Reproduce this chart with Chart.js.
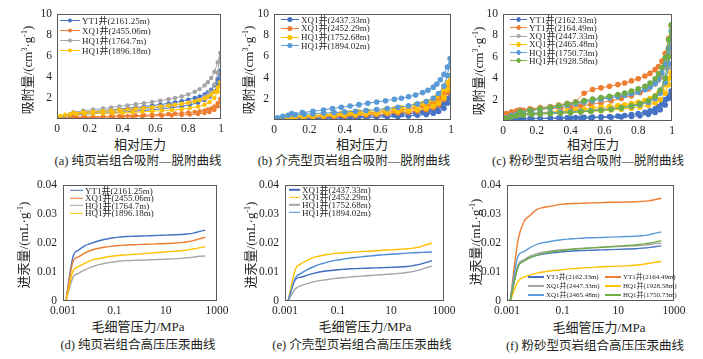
<!DOCTYPE html>
<html>
<head>
<meta charset="utf-8">
<script src="https://cdn.jsdelivr.net/npm/chart.js@4/dist/chart.umd.min.js"></script>
<style>
body{margin:0;width:703px;height:359px;position:relative;overflow:hidden;background:#fff;
  font-family:"Liberation Serif","Noto Sans CJK SC",serif;color:#231f20}
canvas{position:absolute}
.t{position:absolute;white-space:nowrap;font-size:13px;line-height:1;transform:translate(-50%,-50%)}
.t.y{transform:translate(-50%,-50%) rotate(-90deg)}
.t.cap{font-size:12.5px}
sup{font-size:8px;vertical-align:5px;line-height:0}
.lg{position:absolute;display:flex;align-items:center;white-space:nowrap;line-height:1;transform:translateY(-50%)}
.sw{position:relative;display:inline-block;height:8px}
.sw i{position:absolute;left:0;right:0;top:50%;transform:translateY(-50%)}
.sw b{position:absolute;left:50%;top:50%;transform:translate(-50%,-50%);border-radius:50%}
</style>
</head>
<body>
<canvas id="ca"></canvas><canvas id="cb"></canvas><canvas id="cc"></canvas>
<canvas id="cd"></canvas><canvas id="ce"></canvas><canvas id="cf"></canvas>

<div class="t y" style="left:27px;top:70px">吸附量/(cm<sup>3</sup>·g<sup>-1</sup>)</div>
<div class="t y" style="left:248px;top:70px">吸附量/(cm<sup>3</sup>·g<sup>-1</sup>)</div>
<div class="t y" style="left:478px;top:71px">吸附量/(cm<sup>3</sup>·g<sup>-1</sup>)</div>
<div class="t" style="left:140px;top:144px">相对压力</div>
<div class="t" style="left:362px;top:144px">相对压力</div>
<div class="t" style="left:593px;top:144px">相对压力</div>
<div class="t cap" style="left:138px;top:161px">(a) 纯页岩组合吸附—脱附曲线</div>
<div class="t cap" style="left:354px;top:161px">(b) 介壳型页岩组合吸附—脱附曲线</div>
<div class="t cap" style="left:588px;top:161px">(c) 粉砂型页岩组合吸附—脱附曲线</div>

<div class="t y" style="left:23px;top:245px">进汞量/(mL·g<sup>-1</sup>)</div>
<div class="t y" style="left:250px;top:245px">进汞量/(mL·g<sup>-1</sup>)</div>
<div class="t y" style="left:475px;top:242px">进汞量/(mL·g<sup>-1</sup>)</div>
<div class="t" style="left:138px;top:326px">毛细管压力/MPa</div>
<div class="t" style="left:365px;top:326px">毛细管压力/MPa</div>
<div class="t" style="left:599px;top:327px">毛细管压力/MPa</div>
<div class="t cap" style="left:138px;top:345px">(d) 纯页岩组合高压压汞曲线</div>
<div class="t cap" style="left:362px;top:345px">(e) 介壳型页岩组合高压压汞曲线</div>
<div class="t cap" style="left:595px;top:346px">(f) 粉砂型页岩组合高压压汞曲线</div>

<script>
// isotherm pressure points (adsorption up, desorption back down)
const adsP = [0.02,0.05,0.08,0.12,0.17,0.22,0.28,0.34,0.4,0.46,0.52,0.58,0.64,0.7,0.76,0.81,0.86,0.9,0.93,0.96,0.98,0.995];
const desP = [0.98,0.96,0.94,0.92,0.9,0.87,0.84,0.8,0.76,0.72,0.68,0.63,0.58,0.53,0.48,0.43,0.38,0.33,0.28,0.22,0.16,0.1];
const relTicks = [0,0.2,0.4,0.6,0.8,1];
const relTickLabels = ["0","0.2","0.4","0.6","0.8","1"];
const adsTicks = [2,4,6,8,10];
const adsTickLabels = ["2","4","6","8","10"];

// (a)
const aLabels = ["YT1井(2161.25m)","XQ1井(2455.06m)","HQ1井(1764.7m)","HQ1井(1896.18m)"];
const aColors = ["#4472c4","#ed7d31","#a5a5a5","#ffc000"];
const aAds = [
  [0.1,0.3,0.38,0.42,0.46,0.5,0.55,0.6,0.66,0.72,0.8,0.88,0.98,1.08,1.2,1.35,1.55,1.8,2.1,2.6,3.3,4.6],
  [0.05,0.1,0.12,0.14,0.15,0.16,0.18,0.2,0.22,0.24,0.26,0.28,0.31,0.34,0.38,0.42,0.48,0.56,0.66,0.85,1.2,1.9],
  [0.15,0.35,0.45,0.5,0.55,0.6,0.66,0.72,0.8,0.88,0.96,1.05,1.15,1.28,1.42,1.6,1.85,2.15,2.6,3.3,4.4,6.3],
  [0.3,0.4,0.45,0.48,0.5,0.52,0.54,0.56,0.6,0.64,0.68,0.74,0.8,0.86,0.94,1.04,1.18,1.36,1.6,2.0,2.6,3.5]
];
const aDes = [
  [3.8,3.2,2.8,2.55,2.35,2.15,2.0,1.85,1.7,1.58,1.48,1.38,1.28,1.18,1.1,1.02,0.95,0.88,0.8,0.72,0.62,0.52],
  [1.5,1.2,1.0,0.9,0.82,0.74,0.68,0.62,0.56,0.52,0.48,0.44,0.4,0.36,0.33,0.3,0.28,0.26,0.24,0.22,0.2,0.18],
  [5.4,4.5,3.9,3.5,3.2,2.85,2.6,2.35,2.15,2.0,1.88,1.75,1.62,1.5,1.4,1.3,1.2,1.1,1.0,0.9,0.78,0.65],
  [3.0,2.6,2.3,2.1,1.95,1.8,1.68,1.55,1.45,1.36,1.28,1.2,1.12,1.05,0.98,0.92,0.86,0.8,0.75,0.7,0.64,0.58]
];

// (b)
const bLabels = ["XQ1井(2437.33m)","XQ1井(2452.29m)","HQ1井(1752.68m)","HQ1井(1894.02m)"];
const bColors = ["#4472c4","#ed7d31","#ffc000","#5b9bd5"];
const bAds = [
  [0.05,0.08,0.1,0.12,0.13,0.14,0.16,0.18,0.2,0.22,0.24,0.27,0.3,0.34,0.38,0.44,0.52,0.64,0.8,1.1,1.6,2.6],
  [0.08,0.15,0.2,0.23,0.25,0.28,0.31,0.34,0.38,0.42,0.47,0.52,0.58,0.65,0.73,0.84,0.98,1.18,1.45,1.95,2.6,3.6],
  [0.1,0.18,0.24,0.28,0.32,0.36,0.4,0.44,0.48,0.53,0.58,0.64,0.7,0.78,0.87,0.98,1.12,1.32,1.6,2.1,2.9,4.2],
  [0.2,0.35,0.45,0.5,0.55,0.6,0.65,0.7,0.76,0.82,0.9,0.98,1.08,1.2,1.35,1.52,1.75,2.05,2.5,3.2,4.2,5.8]
];
const bDes = [
  [2.0,1.6,1.35,1.15,1.0,0.85,0.75,0.65,0.58,0.52,0.47,0.43,0.4,0.37,0.34,0.31,0.28,0.25,0.22,0.19,0.16,0.13],
  [3.0,2.5,2.1,1.85,1.65,1.45,1.32,1.18,1.06,0.96,0.88,0.8,0.73,0.67,0.61,0.56,0.51,0.46,0.41,0.36,0.31,0.26],
  [3.5,2.9,2.5,2.2,1.95,1.72,1.55,1.4,1.27,1.16,1.06,0.97,0.89,0.82,0.75,0.68,0.62,0.56,0.5,0.44,0.38,0.32],
  [5.0,4.3,3.8,3.4,3.1,2.8,2.6,2.35,2.2,2.05,1.95,1.82,1.7,1.58,1.45,1.32,1.2,1.08,0.95,0.82,0.7,0.6]
];

// (c)
const cLabels = ["YT1井(2162.33m)","YT1井(2164.49m)","XQ1井(2447.33m)","XQ1井(2465.48m)","HQ1井(1750.73m)","HQ1井(1928.58m)"];
const cColors = ["#4472c4","#ed7d31","#a5a5a5","#ffc000","#5b9bd5","#70ad47"];
const cAds = [
  [0.1,0.15,0.18,0.2,0.22,0.23,0.24,0.26,0.27,0.28,0.3,0.32,0.34,0.37,0.42,0.5,0.62,0.8,1.05,1.5,2.1,2.8],
  [0.7,0.85,0.95,1.0,1.05,1.1,1.15,1.2,1.3,1.4,1.55,1.7,1.9,2.1,2.35,2.65,3.0,3.5,4.1,5.2,6.8,8.9],
  [0.3,0.5,0.6,0.65,0.7,0.75,0.8,0.85,0.9,0.95,1.02,1.1,1.2,1.32,1.45,1.62,1.85,2.2,2.7,3.6,5.0,7.2],
  [0.2,0.45,0.55,0.6,0.65,0.68,0.72,0.76,0.8,0.85,0.9,0.96,1.02,1.1,1.2,1.32,1.48,1.7,2.0,2.6,3.4,4.5],
  [0.3,0.5,0.6,0.65,0.7,0.74,0.78,0.82,0.86,0.9,0.95,1.02,1.1,1.22,1.36,1.52,1.75,2.1,2.6,3.6,5.4,8.4],
  [0.25,0.4,0.5,0.55,0.6,0.64,0.68,0.72,0.78,0.85,0.92,1.0,1.1,1.25,1.42,1.62,1.9,2.3,2.9,4.0,6.0,9.0]
];
const cDes = [
  [2.4,2.0,1.6,1.35,1.15,0.95,0.82,0.7,0.6,0.52,0.46,0.42,0.39,0.36,0.34,0.32,0.3,0.28,0.27,0.25,0.23,0.21],
  [7.7,6.3,5.6,5.1,4.8,4.45,4.2,3.95,3.75,3.55,3.4,3.25,3.1,2.95,2.6,1.8,1.65,1.5,1.35,1.25,1.15,1.05],
  [6.2,5.0,4.3,3.8,3.45,3.15,2.95,2.75,2.6,2.47,2.36,2.25,2.12,2.0,1.88,1.72,1.55,1.4,1.28,1.15,1.02,0.9],
  [4.0,3.4,2.95,2.6,2.35,2.1,1.92,1.75,1.62,1.52,1.44,1.36,1.28,1.2,1.12,1.04,0.96,0.9,0.84,0.78,0.72,0.66],
  [6.8,5.3,4.5,3.95,3.55,3.2,2.95,2.72,2.55,2.4,2.28,2.15,2.02,1.9,1.76,1.62,1.48,1.35,1.22,1.1,0.98,0.88],
  [7.6,5.9,5.0,4.4,3.95,3.55,3.25,3.0,2.8,2.62,2.48,2.32,2.18,2.04,1.9,1.75,1.58,1.42,1.28,1.15,1.0,0.88]
];

// mercury intrusion, capillary pressure in MPa
const micpX = [0.0013,0.0025,0.004,0.007,0.012,0.02,0.04,0.08,0.15,0.3,0.6,1.2,2.5,5,10,20,40,70,120,200,350];
const capTicks = [0.001,0.1,10,1000];
const capTickLabels = ["0.001","0.1","10","1000"];
const hgTicks = [0,0.01,0.02,0.03,0.04];
const hgTickLabels = ["0","0.01","0.02","0.03","0.04"];

// (d)
const dLabels = ["YT1井(2161.25m)","XQ1井(2455.06m)","HQ1井(1764.7m)","HQ1井(1896.18m)"];
const dColors = ["#4472c4","#ed7d31","#a5a5a5","#ffc000"];
const dHg = [
  [0,0.0155,0.0175,0.019,0.0198,0.0205,0.0212,0.0217,0.022,0.0222,0.0223,0.0224,0.0225,0.0226,0.0227,0.0228,0.0229,0.0231,0.0234,0.0239,0.0244],
  [0,0.0138,0.0152,0.0165,0.0174,0.018,0.0185,0.0189,0.0191,0.0193,0.0194,0.0195,0.0196,0.0197,0.0198,0.0199,0.0201,0.0204,0.0208,0.0214,0.022],
  [0,0.0083,0.0095,0.0107,0.0116,0.0123,0.0129,0.0134,0.0137,0.0139,0.014,0.0141,0.0142,0.0143,0.0144,0.0145,0.0147,0.0149,0.0151,0.0154,0.0155],
  [0,0.0105,0.0118,0.013,0.0139,0.0145,0.015,0.0154,0.0157,0.0159,0.0161,0.0163,0.0165,0.0167,0.0169,0.0171,0.0173,0.0176,0.0179,0.0183,0.0187]
];

// (e)
const eLabels = ["XQ1井(2437.33m)","XQ1井(2452.29m)","HQ1井(1752.68m)","HQ1井(1894.02m)"];
const eColors = ["#3f6cbf","#ffc000","#a5a5a5","#4f8ad4"];
const eHg = [
  [0,0.0075,0.0082,0.0089,0.0095,0.01,0.0104,0.0107,0.0109,0.0111,0.0112,0.0113,0.0114,0.0115,0.0116,0.0117,0.0119,0.0122,0.0126,0.0132,0.0139],
  [0,0.011,0.0128,0.014,0.015,0.0155,0.016,0.0164,0.0166,0.0168,0.017,0.0171,0.0173,0.0175,0.0176,0.0178,0.018,0.0182,0.0186,0.0193,0.0199],
  [0,0.0042,0.0053,0.006,0.0066,0.007,0.0074,0.0078,0.008,0.0083,0.0085,0.0087,0.0089,0.0091,0.0093,0.0095,0.0098,0.0102,0.0107,0.0114,0.012],
  [0,0.008,0.0095,0.0108,0.0118,0.0126,0.0134,0.014,0.0144,0.0148,0.0151,0.0154,0.0157,0.0159,0.0161,0.0163,0.0165,0.0166,0.0167,0.0168,0.0169]
];

// (f)
const fLabels = ["YT1井(2162.33m)","YT1井(2164.49m)","XQ1井(2447.33m)","HQ1井(1928.58m)","XQ1井(2465.48m)","HQ1井(1750.73m)"];
const fColors = ["#4472c4","#ed7d31","#a5a5a5","#ffc000","#5b9bd5","#70ad47"];
const fHg = [
  [0,0.012,0.0138,0.015,0.0157,0.0162,0.0166,0.0169,0.0171,0.0173,0.0174,0.0175,0.0176,0.0177,0.0178,0.0179,0.018,0.0182,0.0184,0.0187,0.019],
  [0,0.021,0.0272,0.0296,0.0316,0.0322,0.0327,0.0332,0.0335,0.0336,0.0337,0.0338,0.0339,0.034,0.034,0.0341,0.0342,0.0343,0.0345,0.0349,0.0354],
  [0,0.0125,0.0142,0.0155,0.0163,0.0168,0.0173,0.0176,0.0178,0.018,0.0182,0.0184,0.0185,0.0187,0.0188,0.0189,0.019,0.0192,0.0194,0.0197,0.0199],
  [0,0.0068,0.0082,0.009,0.0096,0.01,0.0104,0.0107,0.011,0.0112,0.0114,0.0116,0.0118,0.0119,0.012,0.0121,0.0123,0.0126,0.0129,0.0133,0.0136],
  [0,0.0155,0.017,0.0185,0.0195,0.0201,0.0206,0.021,0.0213,0.0215,0.0217,0.0218,0.0219,0.022,0.0221,0.0222,0.0223,0.0225,0.0228,0.0233,0.0238],
  [0,0.0118,0.0137,0.015,0.0158,0.0164,0.0169,0.0173,0.0176,0.0179,0.0181,0.0183,0.0185,0.0187,0.0189,0.0191,0.0193,0.0196,0.0199,0.0203,0.0207]
];

Chart.defaults.font.family = "'Liberation Serif','Noto Sans CJK SC',serif";
Chart.defaults.color = "#231f20";

const framePlugin = {
  id: "frame",
  afterDraw(chart) {
    const a = chart.chartArea, ctx = chart.ctx;
    ctx.save();
    ctx.strokeStyle = "#5a5a5a";
    ctx.lineWidth = 1;
    ctx.strokeRect(Math.round(a.left) + 0.5, Math.round(a.top) + 0.5,
                   Math.round(a.right - a.left) - 1, Math.round(a.bottom - a.top) - 1);
    ctx.restore();
  }
};

function setupCanvas(id, box) {
  const cv = document.getElementById(id);
  cv.width = box[2]; cv.height = box[3];
  cv.style.left = box[0] + "px"; cv.style.top = box[1] + "px";
  return cv;
}

function axis(type, min, max, ticks, labels, pad) {
  return {
    type, min, max,
    grid: { display: false, drawTicks: false }, border: { display: false },
    afterBuildTicks: s => { s.ticks = ticks.map(v => ({ value: v })); },
    ticks: { autoSkip: false, maxRotation: 0, padding: pad, font: { size: 11.5 },
             callback: (v, i) => labels[i] }
  };
}

// box = [left, top, width, height] of canvas, plot = [left, top, right, bottom] of plot frame
function drawChart(id, box, plot, datasets, xAxis, yAxis) {
  const [L, T, W, H] = box;
  const cv = setupCanvas(id, box);
  xAxis.afterFit = s => { s.height = T + H - plot[3]; };
  yAxis.afterFit = s => { s.width = plot[0] - L; };
  new Chart(cv, {
    type: "scatter",
    data: { datasets },
    options: {
      responsive: false, animation: false, events: [], devicePixelRatio: 1,
      layout: { padding: { top: plot[1] - T, right: L + W - plot[2], left: 0, bottom: 0 } },
      plugins: { legend: { display: false }, tooltip: { enabled: false } },
      scales: { x: xAxis, y: yAxis }
    },
    plugins: [framePlugin]
  });
}

function isoSets(labels, colors, ads, des, r) {
  const n = labels.length;
  return labels.map((lab, i) => ({
    label: lab,
    data: adsP.map((p, k) => ({ x: p, y: ads[i][k] }))
          .concat(desP.map((p, k) => ({ x: p, y: des[i][k] }))),
    borderColor: colors[i], backgroundColor: colors[i],
    borderWidth: 1, pointRadius: r, pointBorderWidth: 0,
    showLine: true, order: n - i
  }));
}

function hgSets(labels, colors, curves) {
  const n = labels.length;
  return labels.map((lab, i) => ({
    label: lab,
    data: micpX.map((p, k) => ({ x: p, y: curves[i][k] })),
    borderColor: colors[i], borderWidth: 1.4, pointRadius: 0,
    showLine: true, cubicInterpolationMode: "monotone", order: n - i
  }));
}

function legend(x0, y0, rowH, swW, fs, labels, colors, r, lw, cols, colStep) {
  labels.forEach((lab, i) => {
    const row = Math.floor(i / cols), col = i % cols;
    const d = document.createElement("div");
    d.className = "lg";
    d.style.left = (x0 + col * colStep) + "px";
    d.style.top = (y0 + row * rowH) + "px";
    d.style.fontSize = fs + "px";
    const dot = r ? `<b style="background:${colors[i]};width:${2 * r}px;height:${2 * r}px"></b>` : "";
    d.innerHTML = `<span class="sw" style="width:${swW}px;margin-right:2px"><i style="background:${colors[i]};height:${lw}px"></i>${dot}</span>${lab}`;
    document.body.appendChild(d);
  });
}

const isoX = () => axis("linear", 0, 1, relTicks, relTickLabels, 3);
const isoY = () => axis("linear", 0, 10, adsTicks, adsTickLabels, 5);
const hgX = () => axis("logarithmic", 0.001, 1000, capTicks, capTickLabels, 3);
const hgY = () => axis("linear", 0, 0.04, hgTicks, hgTickLabels, 6);

drawChart("ca", [0, 0, 232, 136], [57, 14, 221, 119], isoSets(aLabels, aColors, aAds, aDes, 2.2), isoX(), isoY());
drawChart("cb", [232, 0, 230, 136], [274, 14, 451, 120], isoSets(bLabels, bColors, bAds, bDes, 2.8), isoX(), isoY());
drawChart("cc", [462, 0, 230, 136], [503, 14, 672, 121], isoSets(cLabels, cColors, cAds, cDes, 2.8), isoX(), isoY());
drawChart("cd", [0, 172, 232, 146], [63, 183, 217, 301], hgSets(dLabels, dColors, dHg), hgX(), hgY());
drawChart("ce", [232, 172, 230, 146], [285, 183, 444, 301], hgSets(eLabels, eColors, eHg), hgX(), hgY());
drawChart("cf", [462, 172, 230, 146], [507, 183, 674, 301], hgSets(fLabels, fColors, fHg), hgX(), hgY());

legend(60, 20.5, 10, 20, 9, aLabels, aColors, 2, 1, 1, 0);
legend(281, 19.7, 8.7, 18, 9, bLabels, bColors, 2.6, 1, 1, 0);
legend(510, 19.7, 8.2, 17, 9, cLabels, cColors, 2.4, 1, 1, 0);
legend(70, 190.5, 7.5, 13, 9, dLabels, dColors, 0, 1.4, 1, 0);
legend(289, 189.7, 7.6, 11, 9, eLabels, eColors, 0, 1.4, 1, 0);
legend(528, 277.3, 9, 16, 7, fLabels, fColors, 0, 2, 2, 77);
</script>
</body>
</html>
